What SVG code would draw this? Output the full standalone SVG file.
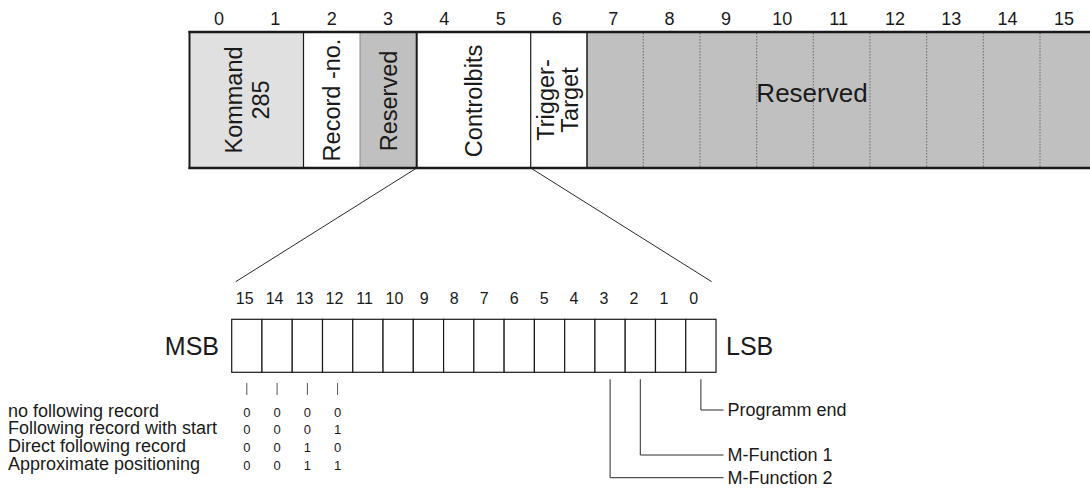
<svg xmlns="http://www.w3.org/2000/svg" width="1090" height="488" viewBox="0 0 1090 488">
  <style>
    text { font-family: "Liberation Sans", Arial, sans-serif; fill: #1a1a1a; }
    .idx { font-size: 18px; text-anchor: middle; }
    .vlab { font-size: 23.5px; text-anchor: middle; }
    .bitn { font-size: 16px; text-anchor: middle; }
    .val { font-size: 13px; text-anchor: middle; }
    .lab { font-size: 18px; }
    .big { font-size: 25px; }
    .div { stroke: #1a1a1a; stroke-width: 1.2; }
    .dot { stroke: #6a6a6a; stroke-width: 1; stroke-dasharray: 1.5 1.5; }
    .bit { fill: #ffffff; stroke: #1a1a1a; stroke-width: 1.2; }
    .conn { stroke: #2a2a2a; stroke-width: 1; fill: none; }
    .tick { stroke: #555555; stroke-width: 1; }
  </style>

  <!-- byte indices above the frame -->
  <g id="byte-index">
    <text class="idx" x="219" y="25">0</text>
    <text class="idx" x="275.3" y="25">1</text>
    <text class="idx" x="331.7" y="25">2</text>
    <text class="idx" x="388" y="25">3</text>
    <text class="idx" x="444.3" y="25">4</text>
    <text class="idx" x="500.7" y="25">5</text>
    <text class="idx" x="557" y="25">6</text>
    <text class="idx" x="613.3" y="25">7</text>
    <text class="idx" x="669.6" y="25">8</text>
    <text class="idx" x="726" y="25">9</text>
    <text class="idx" x="782.3" y="25">10</text>
    <text class="idx" x="838.6" y="25">11</text>
    <text class="idx" x="895" y="25">12</text>
    <text class="idx" x="951.3" y="25">13</text>
    <text class="idx" x="1007.6" y="25">14</text>
    <text class="idx" x="1064" y="25">15</text>
  </g>

  <!-- telegram frame -->
  <g id="field-kommand">
    <rect x="189.5" y="32" width="114" height="136" fill="#e0e0e0"/>
    <text class="vlab" transform="translate(241.5,100) rotate(-90)">Kommand</text>
    <text class="vlab" transform="translate(269,100) rotate(-90)">285</text>
  </g>
  <g id="field-record">
    <rect x="303.5" y="32" width="56.5" height="136" fill="#ffffff"/>
    <text class="vlab" transform="translate(340,100) rotate(-90)">Record -no.</text>
  </g>
  <g id="field-reserved-3">
    <rect x="360" y="32" width="56.7" height="136" fill="#c0c0c0"/>
    <text class="vlab" transform="translate(397,101) rotate(-90)">Reserved</text>
  </g>
  <g id="field-controlbits">
    <rect x="416.7" y="32" width="114" height="136" fill="#ffffff"/>
    <text class="vlab" transform="translate(482,101) rotate(-90)">Controlbits</text>
  </g>
  <g id="field-trigger">
    <rect x="530.7" y="32" width="56.3" height="136" fill="#ffffff"/>
    <text class="vlab" transform="translate(554,100) rotate(-90)">Trigger-</text>
    <text class="vlab" transform="translate(578,100) rotate(-90)">Target</text>
  </g>
  <g id="field-reserved-7-15">
    <rect x="587" y="32" width="511" height="136" fill="#c0c0c0"/>
    <line class="dot" x1="643.3" y1="33" x2="643.3" y2="167"/>
    <line class="dot" x1="700" y1="33" x2="700" y2="167"/>
    <line class="dot" x1="756.7" y1="33" x2="756.7" y2="167"/>
    <line class="dot" x1="813.3" y1="33" x2="813.3" y2="167"/>
    <line class="dot" x1="870" y1="33" x2="870" y2="167"/>
    <line class="dot" x1="926.7" y1="33" x2="926.7" y2="167"/>
    <line class="dot" x1="983.3" y1="33" x2="983.3" y2="167"/>
    <line class="dot" x1="1040" y1="33" x2="1040" y2="167"/>
    <text class="big" x="812" y="101.5" text-anchor="middle" style="font-size:26px">Reserved</text>
  </g>
  <g id="frame-outline">
    <line class="div" x1="303.5" y1="32" x2="303.5" y2="168"/>
    <line x1="360" y1="32" x2="360" y2="168" stroke="#8a8a8a" stroke-width="1"/>
    <line x1="416.7" y1="32" x2="416.7" y2="168" stroke="#1a1a1a" stroke-width="2"/>
    <line class="div" x1="530.7" y1="32" x2="530.7" y2="168"/>
    <line x1="587" y1="32" x2="587" y2="168" stroke="#1a1a1a" stroke-width="1.5"/>
    <line x1="189.5" y1="31" x2="189.5" y2="169" stroke="#1a1a1a" stroke-width="2"/>
    <line x1="188.5" y1="32" x2="1090" y2="32" stroke="#1a1a1a" stroke-width="2.5"/>
    <line x1="188.5" y1="168" x2="1090" y2="168" stroke="#1a1a1a" stroke-width="2.5"/>
  </g>

  <!-- control word, bit 15 (MSB) to bit 0 (LSB) -->
  <g id="bit-numbers">
    <text class="bitn" x="244.7" y="304.3">15</text>
    <text class="bitn" x="274.6" y="304.3">14</text>
    <text class="bitn" x="304.6" y="304.3">13</text>
    <text class="bitn" x="334.5" y="304.3">12</text>
    <text class="bitn" x="364.5" y="304.3">11</text>
    <text class="bitn" x="394.4" y="304.3">10</text>
    <text class="bitn" x="424.3" y="304.3">9</text>
    <text class="bitn" x="454.3" y="304.3">8</text>
    <text class="bitn" x="484.2" y="304.3">7</text>
    <text class="bitn" x="514.2" y="304.3">6</text>
    <text class="bitn" x="544.1" y="304.3">5</text>
    <text class="bitn" x="574" y="304.3">4</text>
    <text class="bitn" x="604" y="304.3">3</text>
    <text class="bitn" x="633.9" y="304.3">2</text>
    <text class="bitn" x="663.9" y="304.3">1</text>
    <text class="bitn" x="693.8" y="304.3">0</text>
  </g>
  <g id="control-word">
    <rect class="bit" x="231.7" y="319.3" width="30.27" height="53"/>
    <rect class="bit" x="261.97" y="319.3" width="30.27" height="53"/>
    <rect class="bit" x="292.24" y="319.3" width="30.27" height="53"/>
    <rect class="bit" x="322.51" y="319.3" width="30.27" height="53"/>
    <rect class="bit" x="352.78" y="319.3" width="30.27" height="53"/>
    <rect class="bit" x="383.05" y="319.3" width="30.27" height="53"/>
    <rect class="bit" x="413.32" y="319.3" width="30.27" height="53"/>
    <rect class="bit" x="443.59" y="319.3" width="30.27" height="53"/>
    <rect class="bit" x="473.86" y="319.3" width="30.27" height="53"/>
    <rect class="bit" x="504.13" y="319.3" width="30.27" height="53"/>
    <rect class="bit" x="534.4" y="319.3" width="30.27" height="53"/>
    <rect class="bit" x="564.67" y="319.3" width="30.27" height="53"/>
    <rect class="bit" x="594.94" y="319.3" width="30.27" height="53"/>
    <rect class="bit" x="625.21" y="319.3" width="30.27" height="53"/>
    <rect class="bit" x="655.48" y="319.3" width="30.27" height="53"/>
    <rect class="bit" x="685.75" y="319.3" width="30.27" height="53"/>
  </g>
  <g id="msb">
    <text class="big" x="219" y="355" text-anchor="end">MSB</text>
  </g>
  <g id="lsb">
    <text class="big" x="726" y="355">LSB</text>
  </g>

  <!-- record mode table, bits 15..12 -->
  <g id="record-mode">
    <text class="lab" x="8" y="416.7">no following record</text>
    <text class="lab" x="8" y="434.4">Following record with start</text>
    <text class="lab" x="8" y="452">Direct following record</text>
    <text class="lab" x="8" y="470">Approximate positioning</text>
    <text class="val" x="246.8" y="416.7">0</text><text class="val" x="277.1" y="416.7">0</text><text class="val" x="307.4" y="416.7">0</text><text class="val" x="337.6" y="416.7">0</text>
    <text class="val" x="246.8" y="434.4">0</text><text class="val" x="277.1" y="434.4">0</text><text class="val" x="307.4" y="434.4">0</text><text class="val" x="337.6" y="434.4">1</text>
    <text class="val" x="246.8" y="452">0</text><text class="val" x="277.1" y="452">0</text><text class="val" x="307.4" y="452">1</text><text class="val" x="337.6" y="452">0</text>
    <text class="val" x="246.8" y="470">0</text><text class="val" x="277.1" y="470">0</text><text class="val" x="307.4" y="470">1</text><text class="val" x="337.6" y="470">1</text>
  </g>

  <!-- bit function labels -->
  <g id="label-programm-end">
    <text class="lab" x="727.5" y="416.4">Programm end</text>
  </g>
  <g id="label-m-function-1">
    <text class="lab" x="727.5" y="461.4">M-Function 1</text>
  </g>
  <g id="label-m-function-2">
    <text class="lab" x="727.5" y="484">M-Function 2</text>
  </g>

  <!-- connectors -->
  <g id="connectors">
    <line class="conn" x1="416.7" y1="168" x2="235.7" y2="281.7"/>
    <line class="conn" x1="530.7" y1="168" x2="711.7" y2="281.7"/>
    <line class="tick" x1="246.8" y1="383" x2="246.8" y2="395"/>
    <line class="tick" x1="277.1" y1="383" x2="277.1" y2="395"/>
    <line class="tick" x1="307.4" y1="383" x2="307.4" y2="395"/>
    <line class="tick" x1="337.6" y1="383" x2="337.6" y2="395"/>
    <polyline class="conn" points="700.9,379.3 700.9,410 723.5,410"/>
    <polyline class="conn" points="640.3,379.3 640.3,455 723.5,455"/>
    <polyline class="conn" points="610.1,379.3 610.1,477.7 723.5,477.7"/>
  </g>
</svg>
